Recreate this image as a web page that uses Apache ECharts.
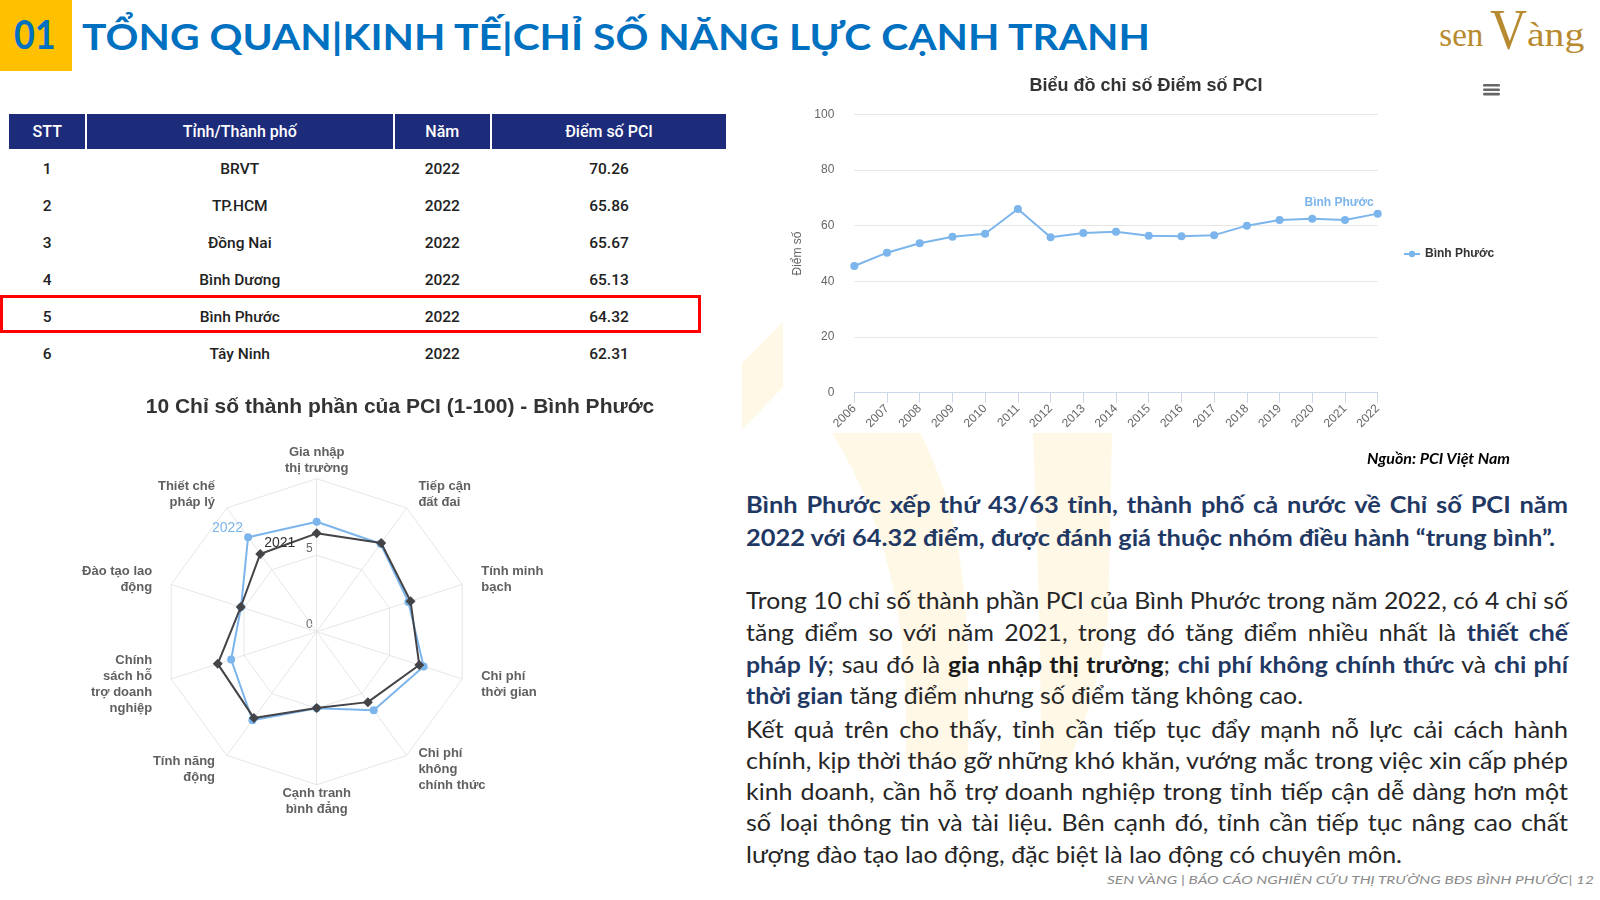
<!DOCTYPE html>
<html lang="vi">
<head>
<meta charset="utf-8">
<title>PCI Bình Phước</title>
<script src="https://cdn.jsdelivr.net/npm/echarts@6/dist/echarts.min.js"></script>
<style>
html,body{margin:0;padding:0;background:#fff;}
body{width:1600px;height:900px;position:relative;overflow:hidden;font-family:Lato,"Noto Sans",sans-serif;}
.abs{position:absolute;}
.ln{position:absolute;white-space:nowrap;transform-origin:0 0;line-height:1.2;}
.ttl{font-weight:bold;font-size:37px;color:#0070C0;}
.num{font-weight:bold;font-size:40px;color:#0070C0;}
.hd{font-weight:bold;font-size:22.5px;color:#1F3864;}
.bd{font-size:23px;color:#262626;}
.bd b{color:#1F3864;}
.bd b.k{color:#1a1a1a;}
.src{font-weight:bold;font-style:italic;font-size:15px;color:#000;}
.ftr{font-style:italic;font-size:12px;color:#8a8a8a;}
.logo{font-family:"Liberation Serif",serif;color:#B88A30;}
.th{position:absolute;background:#1d2b7b;color:#fff;font-family:Roboto,sans-serif;font-weight:500;font-size:16px;text-align:center;line-height:35px;height:35px;}
.td{position:absolute;color:#222;font-family:Roboto,sans-serif;font-weight:500;font-size:15.5px;text-align:center;line-height:37px;height:37px;}
</style>
</head>
<body>
<svg class="abs" style="left:0;top:0" width="1600" height="900">
  <polygon points="783,322 783,387 742,430 742,363" fill="#FFF8E6"/>
  <path d="M832,433 L920,433 C950,490 966,560 968,660 L968,760 L906,760 L906,700 C903,600 880,510 832,433 Z" fill="#FFF8E6"/>
  <path d="M1033,433 L1112,433 L1108,620 C1100,680 1085,720 1070,760 L1040,760 C1042,700 1040,620 1033,433 Z" fill="#FFF8E6"/>
</svg>

<div class="abs" style="left:0;top:0;width:72px;height:71px;background:#FFC000;"></div>
<div class="ln num" data-w="41.7" style="left:14.3px;top:9.8px">01</div>
<div class="ln ttl" data-w="1068" style="left:81.6px;top:13.5px">TỔNG QUAN|KINH TẾ|CHỈ SỐ NĂNG LỰC CẠNH TRANH</div>

<div class="ln logo" data-w="44" style="left:1439.3px;top:15.8px;font-size:33px">sen</div>
<div class="ln logo" data-w="37" style="left:1490px;top:-5px;font-size:58px">V</div>
<div class="ln logo" data-w="57.3" style="left:1526.7px;top:15.8px;font-size:33px">àng</div>

<div id="table"></div>
<div class="abs" style="left:0;top:295px;width:701px;height:38px;border:3.5px solid #FF0000;box-sizing:border-box;"></div>

<div id="radar" class="abs" style="left:60px;top:380px;width:680px;height:440px;"></div>
<div id="line" class="abs" style="left:770px;top:70px;width:752px;height:400px;"></div>

<div class="ln src" data-w="143" style="left:1366.7px;top:449px">Nguồn: PCI Việt Nam</div>

<div class="ln hd" data-p="h" data-j="1" data-w="822" style="left:746px;top:491.1px">Bình Phước xếp thứ 43/63 tỉnh, thành phố cả nước về Chỉ số PCI năm</div>
<div class="ln hd" data-p="h" data-w="809" style="left:746px;top:523.8px">2022 với 64.32 điểm, được đánh giá thuộc nhóm điều hành “trung bình”.</div>

<div class="ln bd" data-p="b1" data-j="1" data-w="822" style="left:746px;top:587.3px">Trong 10 chỉ số thành phần PCI của Bình Phước trong năm 2022, có 4 chỉ số</div>
<div class="ln bd" data-p="b1" data-j="1" data-w="822" style="left:746px;top:618.9px">tăng điểm so với năm 2021, trong đó tăng điểm nhiều nhất là <b>thiết chế</b></div>
<div class="ln bd" data-p="b1" data-j="1" data-w="822" style="left:746px;top:650.6px"><b>pháp lý</b>; sau đó là <b class="k">gia nhập thị trường</b>; <b>chi phí không chính thức</b> và <b>chi phí</b></div>
<div class="ln bd" data-p="b1" data-w="557" style="left:746px;top:682.3px"><b>thời gian</b> tăng điểm nhưng số điểm tăng không cao.</div>
<div class="ln bd" data-p="b2" data-j="1" data-w="822" style="left:746px;top:715.6px">Kết quả trên cho thấy, tỉnh cần tiếp tục đẩy mạnh nỗ lực cải cách hành</div>
<div class="ln bd" data-p="b2" data-j="1" data-w="822" style="left:746px;top:747.1px">chính, kịp thời tháo gỡ những khó khăn, vướng mắc trong việc xin cấp phép</div>
<div class="ln bd" data-p="b2" data-j="1" data-w="822" style="left:746px;top:778.3px">kinh doanh, cần hỗ trợ doanh nghiệp trong tỉnh tiếp cận dễ dàng hơn một</div>
<div class="ln bd" data-p="b2" data-j="1" data-w="822" style="left:746px;top:809.1px">số loại thông tin và tài liệu. Bên cạnh đó, tỉnh cần tiếp tục nâng cao chất</div>
<div class="ln bd" data-p="b2" data-w="656" style="left:746px;top:840.6px">lượng đào tạo lao động, đặc biệt là lao động có chuyên môn.</div>

<div class="ln ftr" data-w="487" style="left:1106.7px;top:872.6px">SEN VÀNG | BÁO CÁO NGHIÊN CỨU THỊ TRƯỜNG BĐS BÌNH PHƯỚC| 12</div>

<script>
// ---------------- data ----------------
const years = ['2006','2007','2008','2009','2010','2011','2012','2013','2014','2015','2016','2017','2018','2019','2020','2021','2022'];
const pciScores = [45.5, 50.3, 53.7, 56.0, 57.1, 66.0, 55.8, 57.4, 57.8, 56.4, 56.2, 56.6, 60.0, 62.0, 62.5, 62.0, 64.32];
const lineSeriesName = 'Bình Phước';
const lineTitle = 'Biểu đồ chỉ số Điểm số PCI';
const lineYTitle = 'Điểm số';

const radarTitle = '10 Chỉ số thành phần của PCI (1-100) - Bình Phước';
const radarIndicators = ['Gia nhập\nthị trường', 'Tiếp cận\nđất đai', 'Tính minh\nbạch', 'Chi phí\nthời gian', 'Chi phí\nkhông\nchính thức', 'Cạnh tranh\nbình đẳng', 'Tính năng\nđộng', 'Chính\nsách hỗ\ntrợ doanh\nnghiệp', 'Đào tạo lao\nđộng', 'Thiết chế\npháp lý'];
const radar2022 = [7.19, 7.10, 6.30, 7.35, 6.34, 5.00, 7.15, 5.88, 5.20, 7.63];
const radar2021 = [6.43, 7.17, 6.45, 7.05, 5.69, 4.98, 6.98, 6.80, 5.22, 6.28];
const radarSeriesNames = ['2022', '2021'];
const radarTicks = [0, 5];
const radarMax = 10;

const tableHeaders = ['STT', 'Tỉnh/Thành phố', 'Năm', 'Điểm số PCI'];
const tableRank = ['1', '2', '3', '4', '5', '6'];
const tableProvince = ['BRVT', 'TP.HCM', 'Đồng Nai', 'Bình Dương', 'Bình Phước', 'Tây Ninh'];
const tableYear = ['2022', '2022', '2022', '2022', '2022', '2022'];
const tableScore = ['70.26', '65.86', '65.67', '65.13', '64.32', '62.31'];

// ---------------- table ----------------
(function(){
  const cols = [{l:9.3,w:75.9},{l:87,w:305.5},{l:394.8,w:95},{l:492,w:234}];
  const host = document.getElementById('table');
  let html = '';
  tableHeaders.forEach((h,i)=>{
    html += `<div class="th" style="left:${cols[i].l}px;top:114.3px;width:${cols[i].w}px">${h}</div>`;
  });
  const colsData = [tableRank, tableProvince, tableYear, tableScore];
  tableRank.forEach((_,r)=>{
    colsData.forEach((arr,i)=>{
      html += `<div class="td" style="left:${cols[i].l}px;top:${150.7+37*r}px;width:${cols[i].w}px">${arr[r]}</div>`;
    });
  });
  host.innerHTML = html;
})();

// ---------------- line chart ----------------
const FONT = '"Liberation Sans", Arial, sans-serif';
const lineChart = echarts.init(document.getElementById('line'), null, {renderer:'canvas'});
const lastIdx = pciScores.length - 1;
lineChart.setOption({
  animation:false,
  textStyle:{fontFamily:FONT},
  title:{text:lineTitle, left:'center', top:7, padding:0,
    textStyle:{fontSize:18, fontWeight:'bold', color:'#333333', fontFamily:FONT}},
  legend:{data:[lineSeriesName], left:633, top:178, padding:0, itemWidth:16, itemHeight:8,
    textStyle:{fontSize:12, fontWeight:'bold', color:'#333333', fontFamily:FONT}},
  grid:{left:84.3, top:44.3, width:523.4, height:278.4, outerBoundsMode:'none', containLabel:false},
  xAxis:{type:'category', data:years, boundaryGap:false,
    axisLine:{lineStyle:{color:'#ccd6eb'}},
    axisTick:{length:10, lineStyle:{color:'#ccd6eb'}},
    axisLabel:{rotate:45, interval:0, color:'#666666', fontSize:12, margin:14, fontFamily:FONT},
    splitLine:{show:false}},
  yAxis:{type:'value', min:0, max:100, interval:20,
    name:lineYTitle, nameLocation:'middle', nameGap:48, nameRotate:90,
    nameTextStyle:{color:'#666666', fontSize:12, fontFamily:FONT},
    axisLabel:{color:'#666666', fontSize:12, margin:20, fontFamily:FONT},
    splitLine:{lineStyle:{color:'#e6e6e6'}}, axisLine:{show:false}, axisTick:{show:false}},
  series:[{
    type:'line', name:lineSeriesName, symbol:'circle', symbolSize:8, showSymbol:true,
    lineStyle:{width:2, color:'#7cb5ec'}, itemStyle:{color:'#7cb5ec'},
    emphasis:{disabled:true},
    data: pciScores.map((v,i)=> i===lastIdx ? {value:v, label:{show:true, position:'left', distance:0, offset:[0,-11],
      formatter:lineSeriesName, color:'#7cb5ec', fontWeight:'bold', fontSize:12, fontFamily:FONT}} : v)
  }],
  graphic:[0,1,2].map(k=>({type:'rect', shape:{x:713, y:14+4.4*k, width:17, height:2.6, r:1.2}, style:{fill:'#666666'}}))
});

// ---------------- radar chart ----------------
const radarChart = echarts.init(document.getElementById('radar'), null, {renderer:'canvas'});
const RCX = 256.7, RCY = 251.7, RR = 153;
const n = radarIndicators.length;
// ECharts lays indicators counter-clockwise; reorder so categories run clockwise from the top
const order = [0].concat(Array.from({length:n-1}, (_,k)=> n-1-k));
const ang = i => (90 - 360/n*i) * Math.PI/180;
const pt = (i,v) => [RCX + RR*v/radarMax*Math.cos(ang(i)), RCY - RR*v/radarMax*Math.sin(ang(i))];

const graphics = [];
radarIndicators.forEach((name,i)=>{
  const c = Math.cos(ang(i)), s = Math.sin(ang(i));
  let x, y, align, va;
  if (Math.abs(c) < 0.01) {
    x = RCX; align = 'center';
    if (s > 0) { y = RCY - RR - 2; va = 'bottom'; } else { y = RCY + RR + 1; va = 'top'; }
  } else {
    x = RCX + (RR+20)*c; y = RCY - (RR+17)*s; align = c > 0 ? 'left' : 'right'; va = 'middle';
  }
  graphics.push({type:'text', x, y, silent:true,
    style:{text:name, fill:'#606060', font:'bold 13px "Liberation Sans", Arial, sans-serif', align, verticalAlign:va, lineHeight:16}});
});
radarTicks.forEach(t=>{
  graphics.push({type:'text', x:RCX-4, y:RCY - RR*t/radarMax - 7, silent:true,
    style:{text:String(t), fill:'#666666', font:'12px "Liberation Sans", Arial, sans-serif', align:'right', verticalAlign:'middle'}});
});
const p22 = pt(n-1, radar2022[n-1]);
const p21 = pt(n-1, radar2021[n-1]);
graphics.push({type:'text', x:p22[0]-5, y:p22[1]-9, silent:true, z:10,
  style:{text:radarSeriesNames[0], fill:'#7cb5ec', font:'14px "Liberation Sans", Arial, sans-serif', align:'right', verticalAlign:'middle'}});
graphics.push({type:'text', x:p21[0]+4, y:p21[1]-11, silent:true, z:10,
  style:{text:radarSeriesNames[1], fill:'#333333', font:'14px "Liberation Sans", Arial, sans-serif', align:'left', verticalAlign:'middle'}});

radarChart.setOption({
  animation:false,
  textStyle:{fontFamily:FONT},
  title:{text:radarTitle, left:'center', top:17, padding:0,
    textStyle:{fontSize:21, fontWeight:'bold', color:'#333333', fontFamily:FONT}},
  radar:{center:[RCX, RCY], radius:RR, startAngle:90, splitNumber:2, shape:'polygon',
    indicator: order.map(i=>({name:radarIndicators[i], min:0, max:radarMax})),
    axisName:{show:false},
    splitLine:{lineStyle:{color:'#e6e6e6', width:1}},
    splitArea:{show:false},
    axisLine:{lineStyle:{color:'#e6e6e6', width:1}},
    axisTick:{show:false}, axisLabel:{show:false}},
  series:[
    {type:'radar', name:radarSeriesNames[0], symbol:'circle', symbolSize:8, z:2,
      itemStyle:{color:'#7cb5ec'}, lineStyle:{color:'#7cb5ec', width:2}, emphasis:{disabled:true},
      data:[{name:radarSeriesNames[0], value: order.map(i=>radar2022[i])}]},
    {type:'radar', name:radarSeriesNames[1], symbol:'diamond', symbolSize:10, z:3,
      itemStyle:{color:'#434348'}, lineStyle:{color:'#434348', width:2}, emphasis:{disabled:true},
      data:[{name:radarSeriesNames[1], value: order.map(i=>radar2021[i])}]}
  ],
  graphic: graphics
});

// ---------------- text fitting (Calibri substitute) ----------------
function fitText(){
  const groups = {};
  document.querySelectorAll('.ln').forEach((el,idx)=>{
    el.style.transform = 'none'; el.style.wordSpacing = '0px';
    const key = el.dataset.p || ('solo' + idx);
    (groups[key] = groups[key] || []).push(el);
  });
  Object.values(groups).forEach(list=>{
    const meas = list.map(el=>el.getBoundingClientRect().width);
    let base = null;
    list.forEach((el,i)=>{ if (!el.dataset.j) base = (+el.dataset.w)/meas[i]; });
    list.forEach((el,i)=>{
      const T = +el.dataset.w, w = meas[i];
      let s = el.dataset.j ? (base || T/w) : T/w;
      if (w*s > T) s = T/w;
      if (el.dataset.j) {
        const sp = (el.textContent.match(/ /g) || []).length;
        if (sp > 0) el.style.wordSpacing = ((T/s - w)/sp) + 'px';
      }
      el.style.transform = 'scaleX(' + s + ')';
    });
  });
}
fitText();
if (document.fonts && document.fonts.ready) document.fonts.ready.then(fitText);
</script>
</body>
</html>
